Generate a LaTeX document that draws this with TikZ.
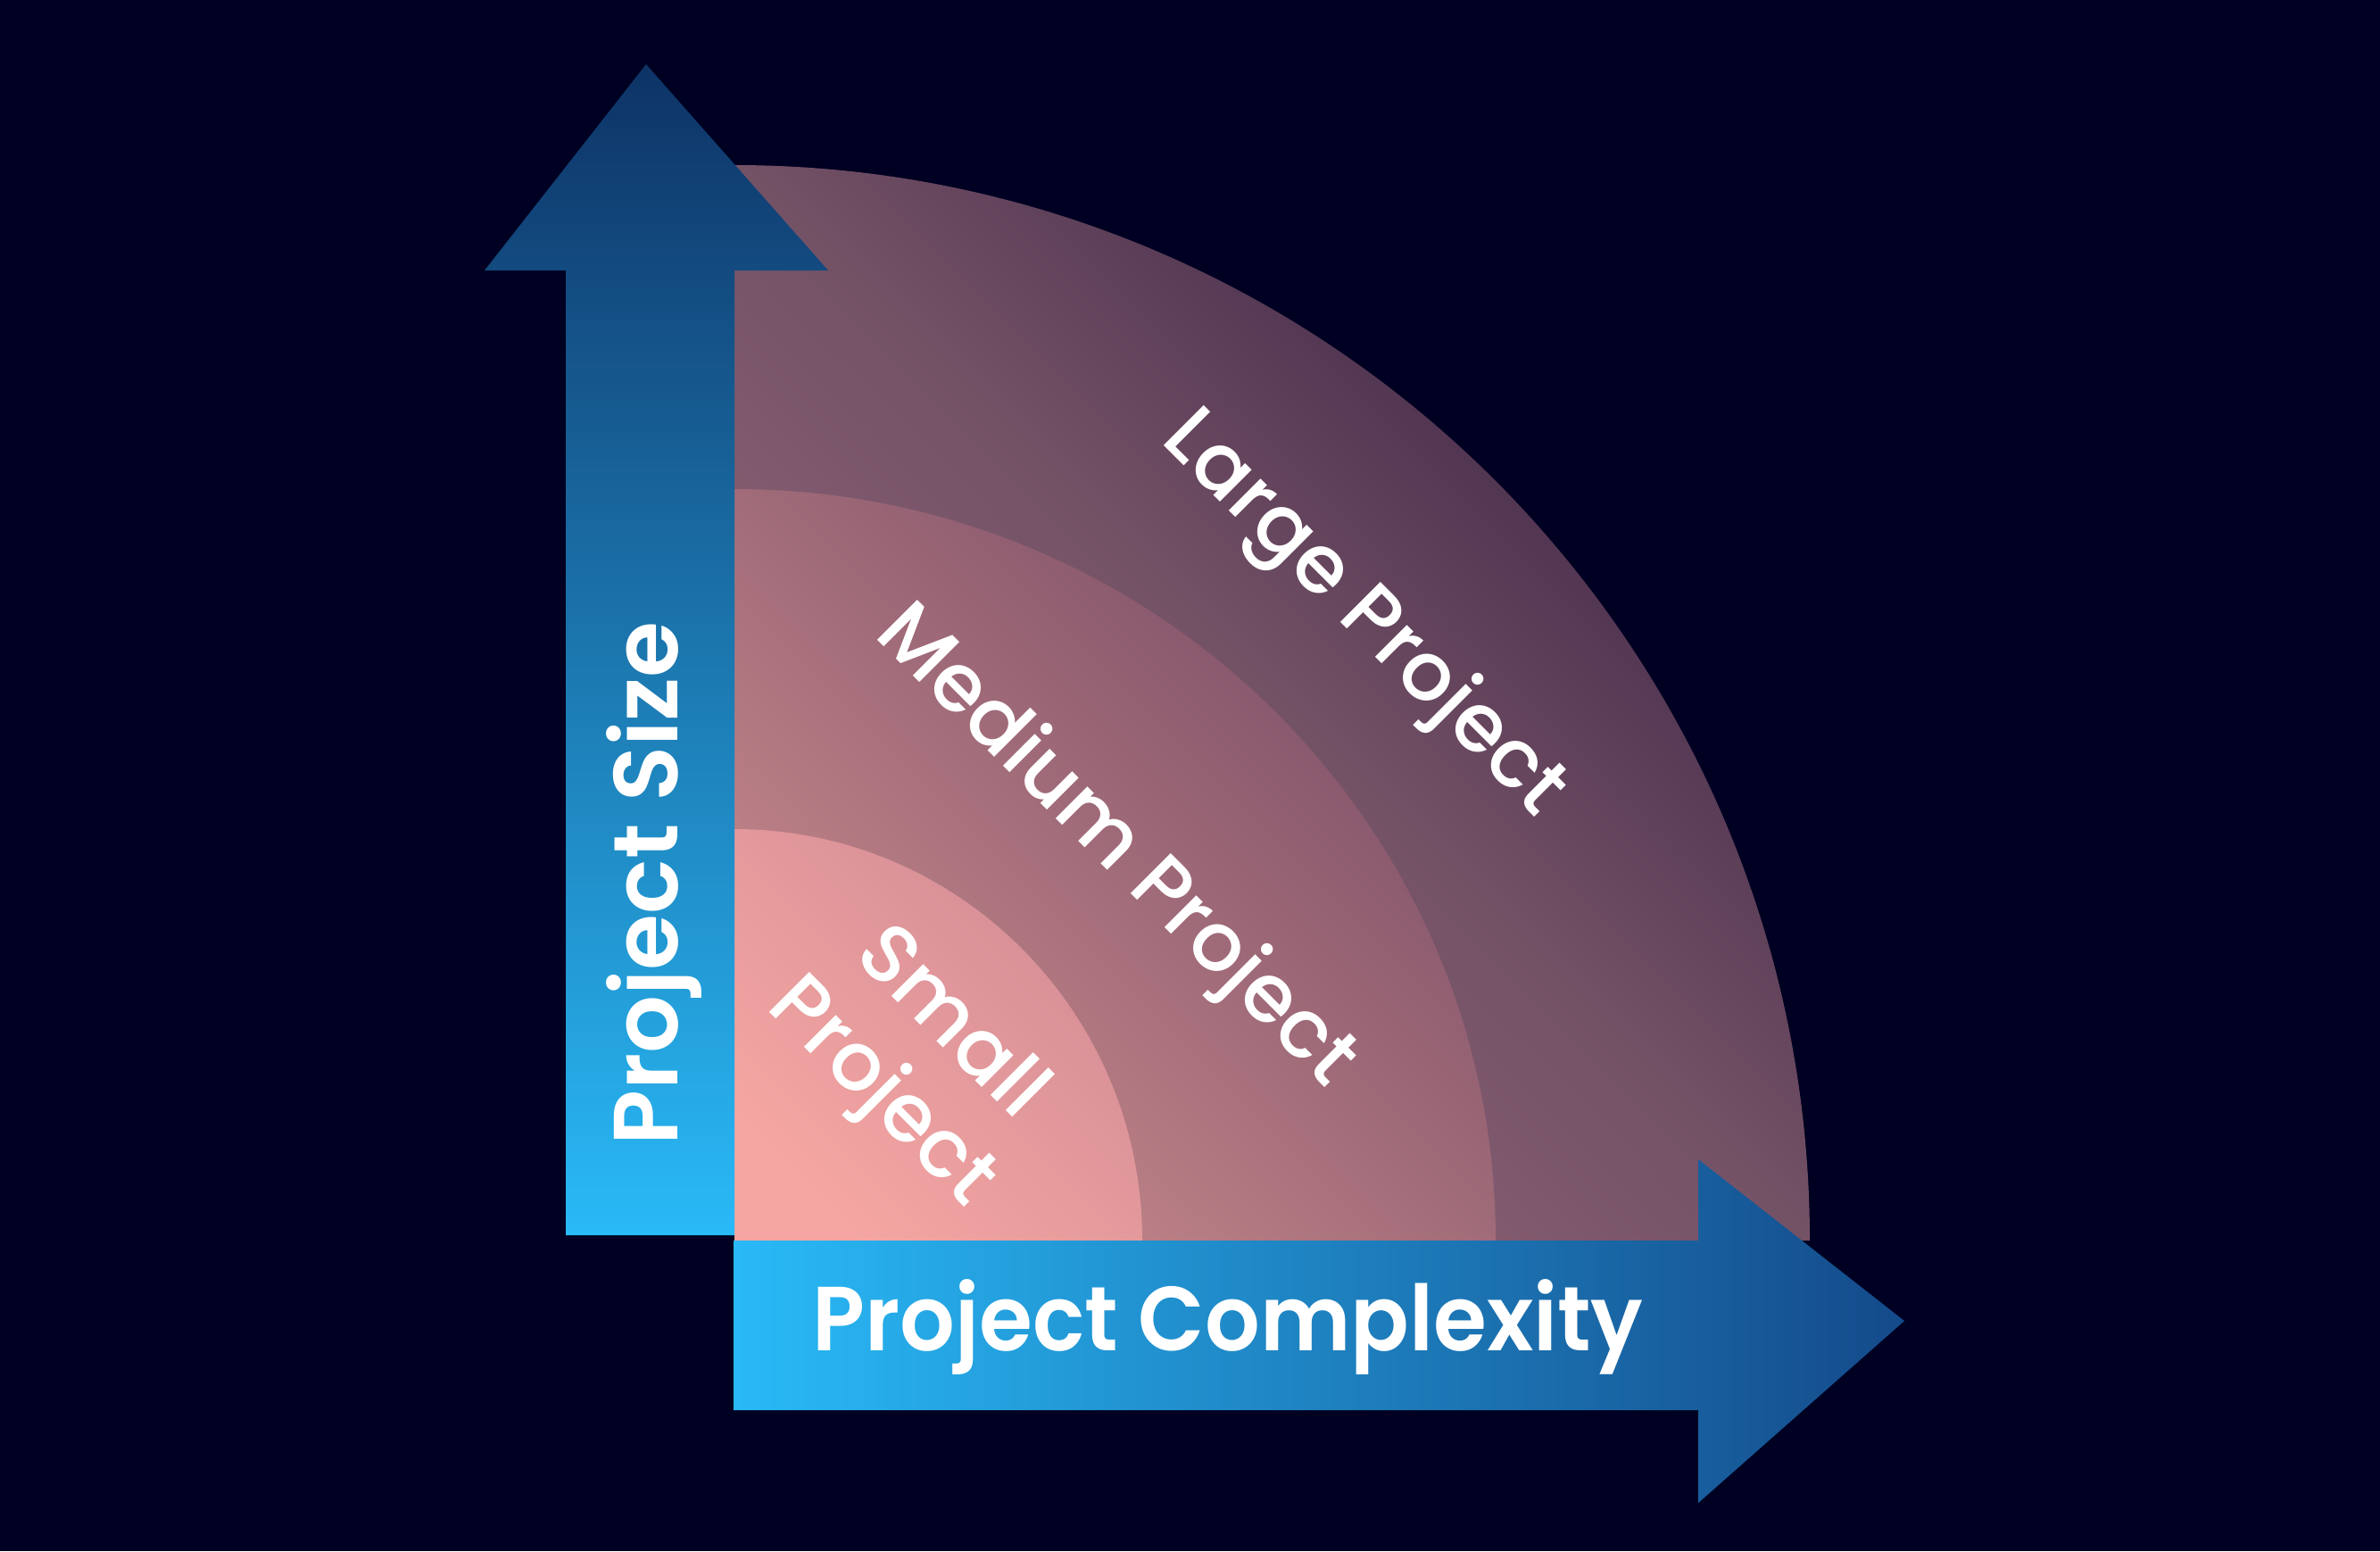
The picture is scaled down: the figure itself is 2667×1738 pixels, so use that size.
\documentclass[tikz,border=0pt]{standalone}
\usepackage{fontspec}
\setmainfont{Poppins}[UprightFont={* Medium},BoldFont={* SemiBold}]
\definecolor{bg}{HTML}{000022}
\definecolor{arrowlight}{HTML}{29BAF7}
\definecolor{arrowdarkv}{HTML}{0E3366}
\definecolor{arrowdarkh}{HTML}{144A8A}
\definecolor{largeA}{HTML}{94667A}
\definecolor{largeB}{HTML}{745266}
\definecolor{largeC}{HTML}{3A2244}
\definecolor{medA}{HTML}{C88A8C}
\definecolor{medB}{HTML}{7A4D66}
\definecolor{smallA}{HTML}{F5A6A2}
\definecolor{smallB}{HTML}{D28C95}
\tikzset{
  axislabel/.style={text=white, font=\bfseries\fontsize{29}{33}\selectfont, inner sep=0pt},
  ringlabel/.style={text=white, font=\fontsize{26}{31}\selectfont, inner sep=0pt, rotate=-45, align=center},
}
\begin{document}
\begin{tikzpicture}[x=0.01cm, y=-0.01cm]
\fill[bg] (0,0) rectangle (2667,1738);
\useasboundingbox (0,0) rectangle (2667,1738);
\coordinate (O) at (823,1390);
% quarter regions
\shade[top color=largeC, bottom color=largeA, middle color=largeB, shading angle=-45]
  (O) -- ++(1205,0) arc[start angle=0, end angle=-90, radius=1205] -- cycle;
\shade[top color=medB, bottom color=medA, shading angle=-45]
  (O) -- ++(853,0) arc[start angle=0, end angle=-90, x radius=853, y radius=842] -- cycle;
\shade[top color=smallB, bottom color=smallA, shading angle=-45]
  (O) -- ++(457,0) arc[start angle=0, end angle=-90, x radius=457, y radius=461] -- cycle;
% vertical arrow
\shade[top color=arrowdarkv, bottom color=arrowlight]
  (634,1384) -- (634,303) -- (543,303) -- (724,72) -- (928,303) -- (823,303) -- (823,1384) -- cycle;
% horizontal arrow
\shade[left color=arrowlight, right color=arrowdarkh]
  (822,1390) -- (1903,1390) -- (1903,1299) -- (2134,1480) -- (1903,1684) -- (1903,1580) -- (822,1580) -- cycle;
% labels
\node[axislabel, rotate=90, anchor=base] (ysize) at (759,990) {Project Size};
\node[axislabel, anchor=base, xscale=0.95] (xcomp) at (1376,1513) {Project Complexity};
\node[ringlabel] (large) at (1527,690) {Large Project};
\node[ringlabel] (medium) at (1249,950) {Medium Project};
\node[ringlabel] (small) at (1024,1188) {Small\\Project};
\end{tikzpicture}
\end{document}
